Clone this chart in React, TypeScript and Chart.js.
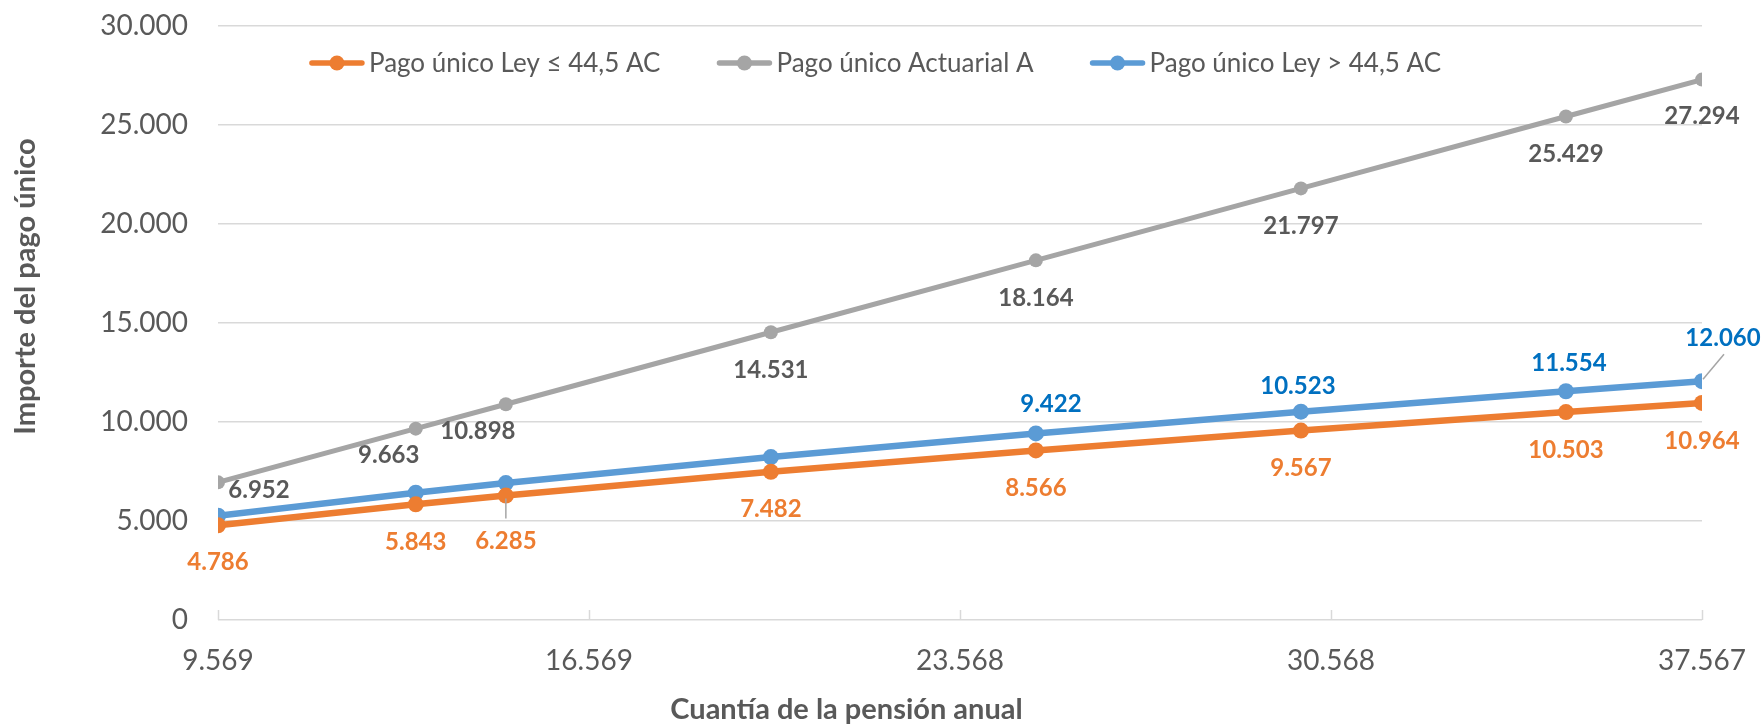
import React, { useEffect, useRef } from 'react';
import { Chart, registerables } from 'chart.js';

Chart.register(...registerables);

// ---------- data ----------
const pensionAnual = [9569, 13300, 15000, 20000, 25000, 30000, 35000, 37567];
const pagoLeyMenor = [4786, 5843, 6285, 7482, 8566, 9567, 10503, 10964];
const pagoActuarial = [6952, 9663, 10898, 14531, 18164, 21797, 25429, 27294];
const pagoLeyMayor = [5265, 6427, 6914, 8230, 9422, 10523, 11554, 12060];

const seriesNames = ['Pago único Ley ≤ 44,5 AC', 'Pago único Actuarial A', 'Pago único Ley > 44,5 AC'];

const xTickValues = [9569, 16568.5, 23568, 30567.5, 37567];
const xTickLabels = ['9.569', '16.569', '23.568', '30.568', '37.567'];
const yTickValues = [0, 5000, 10000, 15000, 20000, 25000, 30000];
const yTickLabels = ['0', '5.000', '10.000', '15.000', '20.000', '25.000', '30.000'];

const xAxisTitle = 'Cuantía de la pensión anual';
const yAxisTitle = 'Importe del pago único';

// which points carry a data label
const showLeyMenor = [true, true, true, true, true, true, true, true];
const showActuarial = [true, true, true, true, true, true, true, true];
const showLeyMayor = [false, false, false, false, true, true, true, true];

// ---------- styles / layout ----------
const FONT = "Lato, 'Open Sans', sans-serif";
const ORANGE = '#ED7D31';
const GRAY = '#A5A5A5';
const BLUE = '#5B9BD5';
const TEXT = '#595959';
const BLUE_TEXT = '#0070C0';
const GRID = '#D9D9D9';

const W = 1764;
const H = 725;

// label offsets (px) relative to each point
const offLeyMenor = [[0, 36], [0, 37], [0, 45], [0, 37], [0, 37], [0, 37], [0, 37], [0, 37]];
const offActuarial = [[41, 7], [-27, 26], [-28, 26], [0, 37], [0, 37], [0, 37], [0, 37], [0, 36]];
const offLeyMayor = [[0, -28], [0, -28], [0, -28], [0, -28], [15, -30], [-3, -26], [3, -29], [21, -44]];
const leadLeyMenor: (number[] | null)[] = [null, null, [0, 3, 0, 23], null, null, null, null, null];
const leadActuarial: (number[] | null)[] = [null, null, null, null, null, null, null, null];
const leadLeyMayor: (number[] | null)[] = [null, null, null, null, null, null, null, [1, -2, 22, -27]];

const fmt = (n: number) => String(Math.round(n)).replace(/\B(?=(\d{3})+(?!\d))/g, '.');

const labelCfg = [
  { show: showLeyMenor, off: offLeyMenor, lead: leadLeyMenor, color: ORANGE },
  { show: showActuarial, off: offActuarial, lead: leadActuarial, color: TEXT },
  { show: showLeyMayor, off: offLeyMayor, lead: leadLeyMayor, color: BLUE_TEXT },
];

const LABEL_SIZE = 24;
const LEGEND_SIZE = 26;
const TITLE_SIZE = 29;
const TICK_SIZE = 28;
const CAP = 0.717;

const overlayPlugin = {
  id: 'overlay',
  beforeDatasetsDraw(chart: any) {
    const ctx = chart.ctx;
    const area = chart.chartArea;
    const xs = chart.scales.x;
    ctx.save();
    ctx.strokeStyle = GRID;
    ctx.lineWidth = 1.5;
    xTickValues.forEach((v) => {
      const px = Math.round(xs.getPixelForValue(v)) + 0.5;
      ctx.beginPath();
      ctx.moveTo(px, area.bottom);
      ctx.lineTo(px, area.bottom - 10);
      ctx.stroke();
    });
    ctx.restore();
  },
  afterDatasetsDraw(chart: any) {
    const ctx = chart.ctx;
    ctx.save();
    // data labels
    chart.data.datasets.forEach((ds: any, di: number) => {
      const meta = chart.getDatasetMeta(di);
      const cfg = labelCfg[di];
      meta.data.forEach((el: any, i: number) => {
        if (!cfg.show[i]) return;
        const lead = cfg.lead[i];
        if (lead) {
          ctx.strokeStyle = GRAY;
          ctx.lineWidth = 1.5;
          ctx.beginPath();
          ctx.moveTo(el.x + lead[0], el.y + lead[1]);
          ctx.lineTo(el.x + lead[2], el.y + lead[3]);
          ctx.stroke();
        }
        const [dx, dy] = cfg.off[i];
        ctx.font = `bold ${LABEL_SIZE}px ${FONT}`;
        ctx.fillStyle = cfg.color;
        ctx.textAlign = 'center';
        ctx.textBaseline = 'alphabetic';
        ctx.fillText(fmt(ds.data[i].y), el.x + dx, el.y + dy + (LABEL_SIZE * CAP) / 2);
      });
    });

    // legend
    ctx.font = `${LEGEND_SIZE}px ${FONT}`;
    const lineLen = 54;
    const textGap = 5;
    const itemGap = 57;
    const widths = chart.data.datasets.map((d: any) => lineLen + textGap + ctx.measureText(d.label).width);
    const total = widths.reduce((a: number, b: number) => a + b, 0) + itemGap * (widths.length - 1);
    let x = 875.5 - total / 2;
    const ly = 63;
    chart.data.datasets.forEach((d: any, i: number) => {
      ctx.strokeStyle = d.borderColor;
      ctx.lineWidth = 5.5;
      ctx.lineCap = 'round';
      ctx.beginPath();
      ctx.moveTo(x + 2, ly);
      ctx.lineTo(x + lineLen - 2, ly);
      ctx.stroke();
      ctx.fillStyle = d.borderColor;
      ctx.beginPath();
      ctx.arc(x + lineLen / 2, ly, 7.5, 0, Math.PI * 2);
      ctx.fill();
      ctx.fillStyle = TEXT;
      ctx.textAlign = 'left';
      ctx.textBaseline = 'alphabetic';
      ctx.fillText(d.label, x + lineLen + textGap, ly + (LEGEND_SIZE * CAP) / 2);
      x += widths[i] + itemGap;
    });

    // axis titles
    ctx.font = `bold ${TITLE_SIZE}px ${FONT}`;
    ctx.fillStyle = TEXT;
    ctx.textAlign = 'center';
    ctx.textBaseline = 'alphabetic';
    ctx.fillText(xAxisTitle, 846.5, 719);
    ctx.save();
    ctx.translate(35, 286.5);
    ctx.rotate(-Math.PI / 2);
    ctx.fillText(yAxisTitle, 0, 0);
    ctx.restore();
    ctx.restore();
  },
};

export default function App() {
  const ref = useRef<HTMLCanvasElement | null>(null);

  useEffect(() => {
    if (!ref.current) return;
    const mk = (ys: number[]) => pensionAnual.map((x, i) => ({ x, y: ys[i] }));
    const chart = new Chart(ref.current, {
      type: 'line',
      data: {
        datasets: [
          {
            label: seriesNames[0],
            data: mk(pagoLeyMenor),
            borderColor: ORANGE,
            backgroundColor: ORANGE,
            pointBackgroundColor: ORANGE,
            pointBorderWidth: 0,
            pointRadius: 8,
            borderWidth: 6.5,
            tension: 0,
          },
          {
            label: seriesNames[1],
            data: mk(pagoActuarial),
            borderColor: GRAY,
            backgroundColor: GRAY,
            pointBackgroundColor: GRAY,
            pointBorderWidth: 0,
            pointRadius: 7,
            borderWidth: 5,
            tension: 0,
          },
          {
            label: seriesNames[2],
            data: mk(pagoLeyMayor),
            borderColor: BLUE,
            backgroundColor: BLUE,
            pointBackgroundColor: BLUE,
            pointBorderWidth: 0,
            pointRadius: 8,
            borderWidth: 6.5,
            tension: 0,
          },
        ],
      },
      options: {
        responsive: false,
        animation: false,
        devicePixelRatio: 1,
        layout: { padding: { left: 0, right: 62, top: 26, bottom: 0 } },
        plugins: {
          legend: { display: false },
          tooltip: { enabled: false },
          title: { display: false },
        },
        scales: {
          x: {
            type: 'linear',
            min: pensionAnual[0],
            max: pensionAnual[pensionAnual.length - 1],
            afterBuildTicks: (s: any) => {
              s.ticks = xTickValues.map((value) => ({ value }));
            },
            afterFit: (s: any) => {
              s.height = H - 620;
              s.paddingLeft = 0;
              s.paddingRight = 0;
              s.paddingTop = 0;
              s.paddingBottom = 0;
            },
            grid: { display: false, drawTicks: false },
            border: { display: false },
            ticks: {
              autoSkip: false,
              maxRotation: 0,
              padding: 24,
              color: TEXT,
              font: { family: FONT, size: TICK_SIZE },
              callback: (_v: any, i: number) => xTickLabels[i],
            },
          },
          y: {
            type: 'linear',
            min: 0,
            max: 30000,
            afterBuildTicks: (s: any) => {
              s.ticks = yTickValues.map((value) => ({ value }));
            },
            afterFit: (s: any) => {
              s.width = 218;
              s.paddingLeft = 0;
              s.paddingRight = 0;
              s.paddingTop = 0;
              s.paddingBottom = 0;
            },
            grid: { color: GRID, lineWidth: 1.5, drawTicks: false },
            border: { display: false },
            ticks: {
              padding: 30,
              color: TEXT,
              font: { family: FONT, size: TICK_SIZE },
              callback: (_v: any, i: number) => yTickLabels[i],
            },
          },
        },
      } as any,
      plugins: [overlayPlugin],
    });
    return () => chart.destroy();
  }, []);

  return (
    <div style={{ position: 'fixed', left: 0, top: 0, width: W, height: H, background: '#fff' }}>
      <canvas ref={ref} width={W} height={H} style={{ width: W, height: H, display: 'block' }} />
    </div>
  );
}
